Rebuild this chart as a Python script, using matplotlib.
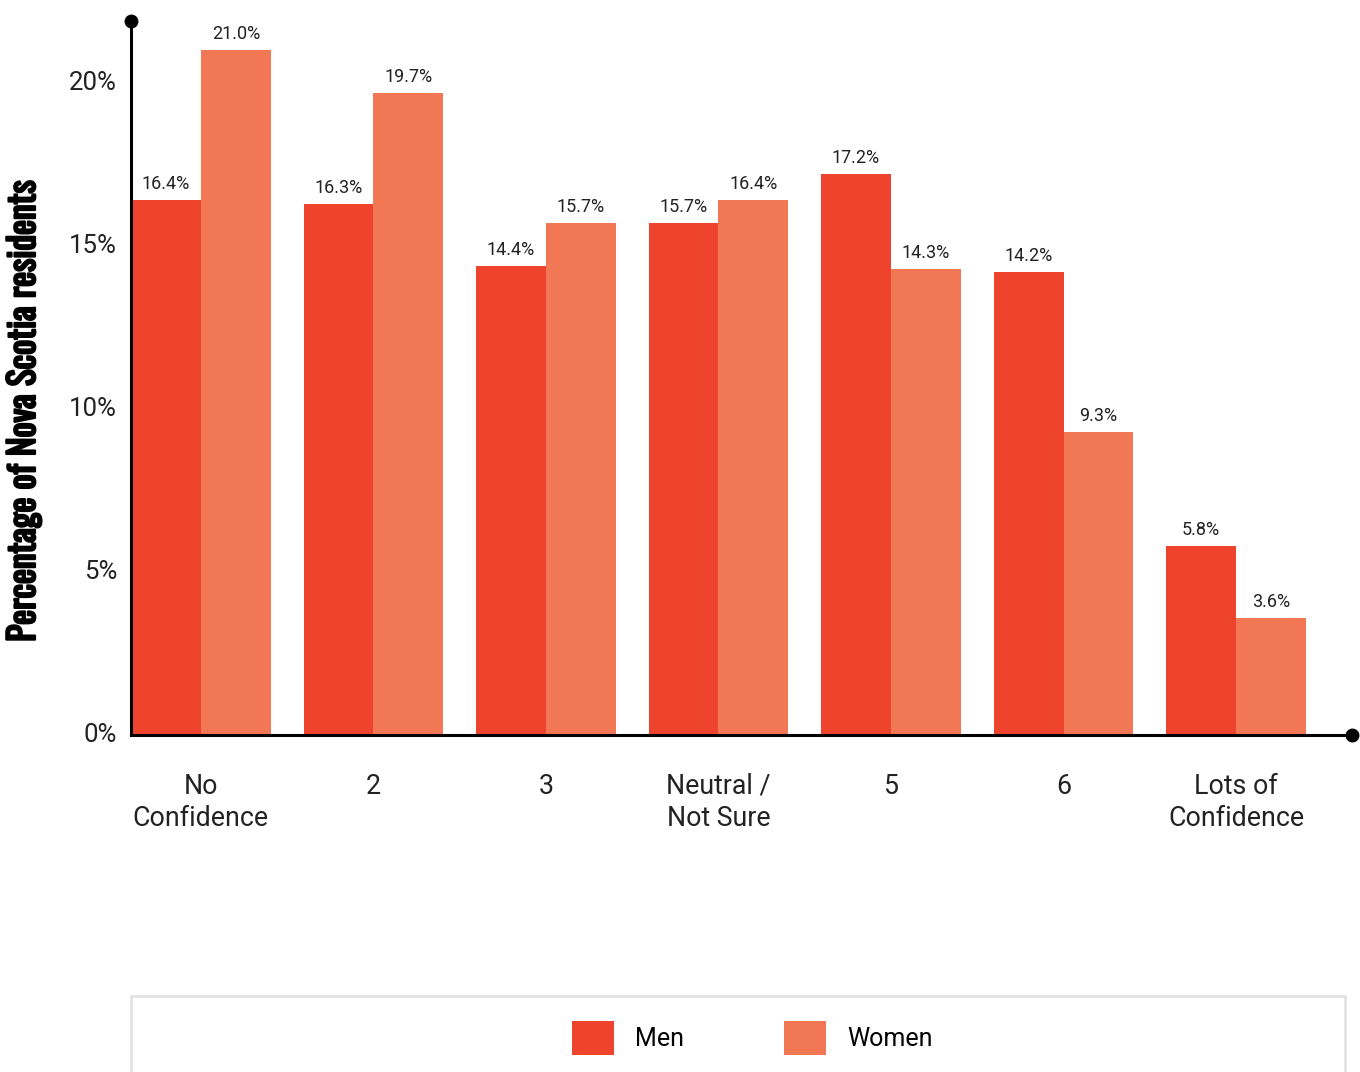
import matplotlib
matplotlib.use("Agg")
import matplotlib.pyplot as plt
import matplotlib.patches as mpatches
import matplotlib.transforms as mtransforms
import matplotlib.patheffects as pe
from matplotlib import font_manager
import numpy as np

categories = ["No\nConfidence", "2", "3", "Neutral /\nNot Sure", "5", "6", "Lots of\nConfidence"]
men = [16.4, 16.3, 14.4, 15.7, 17.2, 14.2, 5.8]
women = [21.0, 19.7, 15.7, 16.4, 14.3, 9.3, 3.6]
series_names = ["Men", "Women"]
yticks = [0, 5, 10, 15, 20]
ytick_labels = ["0%", "5%", "10%", "15%", "20%"]

MEN_COLOR = "#EE442E"
WOMEN_COLOR = "#F27855"

plt.rcParams["font.family"] = ["Roboto", "DejaVu Sans"]

# pick a narrow face for the axis title if one is installed
_names = {f.name for f in font_manager.fontManager.ttflist}
_condensed = [n for n in ("Oswald", "Roboto Condensed", "Liberation Sans Narrow",
                          "DejaVu Sans Condensed", "Open Sans Condensed")
              if n in _names]
if _condensed:
    title_family = [_condensed[0], "DejaVu Sans"]
    title_size = 25.5
else:
    title_family = ["Roboto", "DejaVu Sans"]
    title_size = 18.5

W, H = 1360, 1072
fig = plt.figure(figsize=(W / 100, H / 100), dpi=100)
ax = fig.add_axes([131 / W, 1 - 735 / H, (1352 - 131) / W, (735 - 21) / H])

x = np.arange(len(categories))
bw = 0.405
b1 = ax.bar(x - bw / 2, men, width=bw, color=MEN_COLOR, label=series_names[0], zorder=2)
b2 = ax.bar(x + bw / 2, women, width=bw, color=WOMEN_COLOR, label=series_names[1], zorder=2)

for bars, vals in ((b1, men), (b2, women)):
    for rect, v in zip(bars, vals):
        ax.annotate(f"{v:.1f}%", (rect.get_x() + rect.get_width() / 2, v),
                    xytext=(0, 5), textcoords="offset points",
                    ha="center", va="bottom", fontsize=13, color="#222222")

ax.set_xlim(-0.405, 6.672)
ax.set_ylim(0, 21.9)

for s in ("top", "right"):
    ax.spines[s].set_visible(False)
for s in ("left", "bottom"):
    ax.spines[s].set_linewidth(2.2)
    ax.spines[s].set_color("black")
    ax.spines[s].set_zorder(3)

# round caps at the axis ends
ax.plot([0], [1], "o", color="black", ms=9, transform=ax.transAxes, clip_on=False, zorder=4)
ax.plot([1], [0], "o", color="black", ms=9, transform=ax.transAxes, clip_on=False, zorder=4)

ax.set_yticks(yticks)
ax.set_yticklabels(ytick_labels, fontsize=18.5, color="#222222")
ax.tick_params(axis="y", length=0, pad=10)
shift = mtransforms.ScaledTranslation(0, 2 / 72, fig.dpi_scale_trans)
for lab in ax.get_yticklabels():
    lab.set_transform(lab.get_transform() + shift)

ax.set_xticks(x)
ax.set_xticklabels(categories, fontsize=19.3, color="#222222", linespacing=1.27)
ax.tick_params(axis="x", length=0, pad=27)

fig.text(24 / W, 1 - 411 / H, "Percentage of Nova Scotia residents", rotation=90,
         ha="center", va="center", fontsize=title_size, fontweight="bold",
         family=title_family, color="black",
         path_effects=[pe.withStroke(linewidth=1.6, foreground="black")])

# legend panel
panel = mpatches.Rectangle((131 / W, -0.02), (1345 - 131) / W, (1072 - 996) / H + 0.02,
                           transform=fig.transFigure, facecolor="white",
                           edgecolor="#e3e3e3", linewidth=2, zorder=0)
fig.patches.append(panel)

fs = 18
fig.legend(handles=[b1, b2], labels=series_names, loc="center",
           bbox_to_anchor=(752 / W, 1 - 1038 / H), ncol=2, frameon=False,
           fontsize=fs, handlelength=1.68, handleheight=1.68,
           handletextpad=0.84, columnspacing=4.0)

fig.savefig("out.png", dpi=100)
